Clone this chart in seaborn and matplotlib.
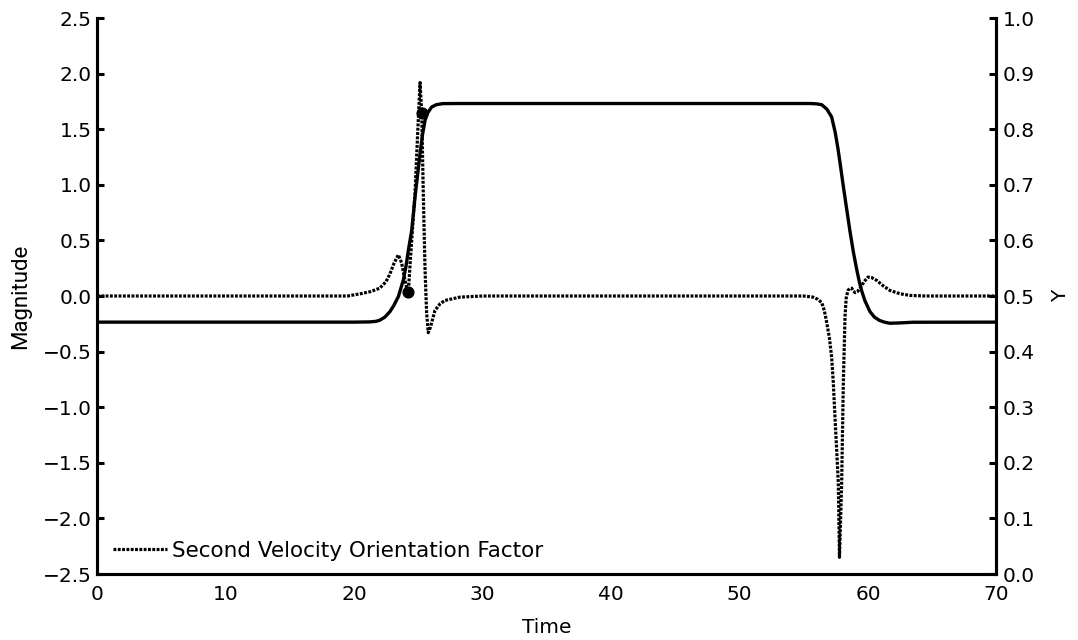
import numpy as np
import pandas as pd
import matplotlib
matplotlib.use("Agg")
import matplotlib.pyplot as plt
import seaborn as sns

# ---- data ----
# Solid curve (right axis "Y")
solid_time = [0, 10, 20.0, 21.2, 21.7, 22.0, 22.4, 22.8, 23.1, 23.45, 23.84, 24.05,
              24.23, 24.49, 24.75, 24.95, 25.14, 25.33, 25.53, 25.75, 26.05, 26.4,
              26.9, 28, 40, 55.5, 56.0, 56.4, 56.8, 57.17, 57.45, 57.67, 57.87, 58.05,
              58.33, 58.6, 58.87, 59.12, 59.32, 59.5, 59.75, 60.15, 60.5, 60.9, 61.3,
              61.7, 62.5, 63.5, 70]
solid_y = [0.453, 0.453, 0.453, 0.4534, 0.4544, 0.4564, 0.462, 0.472, 0.483, 0.4988,
           0.5288, 0.554, 0.582, 0.618, 0.678, 0.718, 0.756, 0.790, 0.816, 0.830,
           0.840, 0.844, 0.846, 0.8462, 0.8462, 0.8462, 0.8456, 0.844, 0.836, 0.822,
           0.794, 0.764, 0.732, 0.702, 0.658, 0.616, 0.578, 0.548, 0.526, 0.510,
           0.492, 0.472, 0.462, 0.456, 0.4528, 0.451, 0.4516, 0.4528, 0.453]

# Dotted curve (left axis "Magnitude")
dot_time = [0, 10, 19.5, 20.5, 21.3, 22.0, 22.5, 22.8, 23.1, 23.45, 23.7, 23.97, 24.1,
            24.23, 24.4, 24.75, 24.95, 25.14, 25.27, 25.39, 25.53, 25.65, 25.78, 25.95,
            26.3, 26.7, 27.08, 28.25, 30, 40, 55.0, 55.72, 56.1, 56.4, 56.6, 56.79,
            57.0, 57.17, 57.3, 57.43, 57.56, 57.69, 57.78, 57.87, 57.95, 58.08, 58.21,
            58.3, 58.44, 58.6, 58.73, 58.87, 58.99, 59.18, 59.38, 59.7, 60.0, 60.3,
            60.68, 61.2, 61.71, 62.49, 63.3, 64.5, 70]
dot_mag = [0, 0, 0, 0.02, 0.04, 0.07, 0.13, 0.20, 0.29, 0.37, 0.30, 0.14, 0.07,
           0.04, 0.35, 0.93, 1.45, 1.92, 1.65, 0.93, 0.23, -0.15, -0.33, -0.28,
           -0.13, -0.07, -0.04, -0.01, 0, 0, 0, -0.01, -0.03, -0.06, -0.13, -0.24,
           -0.38, -0.55, -0.78, -1.09, -1.38, -1.68, -2.35, -2.0, -1.68, -0.78, -0.19,
           -0.02, 0.05, 0.07, 0.07, 0.045, 0.03, 0.04, 0.07, 0.13, 0.17, 0.165,
           0.14, 0.09, 0.05, 0.02, 0.005, 0, 0]

# marker points on the dotted curve
marker_time = [24.23, 25.27]
marker_mag = [0.036, 1.65]

legend_label = "Second Velocity Orientation Factor"
left_ticks = [-2.5, -2.0, -1.5, -1.0, -0.5, 0.0, 0.5, 1.0, 1.5, 2.0, 2.5]
right_ticks = [0.0, 0.1, 0.2, 0.3, 0.4, 0.5, 0.6, 0.7, 0.8, 0.9, 1.0]
x_ticks = [0, 10, 20, 30, 40, 50, 60, 70]

# ---- plotting ----
sns.set_style("white")
plt.rcParams['font.family'] = ['DejaVu Sans']
plt.rcParams['axes.unicode_minus'] = True
plt.rcParams['text.color'] = 'black'
plt.rcParams['axes.labelcolor'] = 'black'

fig = plt.figure(figsize=(10.78, 6.40), dpi=100)
ax = fig.add_axes([97/1078, 1 - 574/640, (996.5 - 97)/1078, (574 - 18)/640])
ax2 = ax.twinx()

df_dot = pd.DataFrame({"Time": dot_time, "Magnitude": dot_mag})
df_solid = pd.DataFrame({"Time": solid_time, "Y": solid_y})

sns.lineplot(data=df_dot, x="Time", y="Magnitude", ax=ax, color="black",
             linewidth=2.3, linestyle=(0, (0.9, 0.45)), label=legend_label,
             estimator=None, sort=False, solid_joinstyle="round")
ax.scatter(marker_time, marker_mag, s=60, color="black", zorder=5)

sns.lineplot(data=df_solid, x="Time", y="Y", ax=ax2, color="black",
             linewidth=2.4, estimator=None, sort=False, legend=False,
             solid_joinstyle="round", solid_capstyle="round")

ax.set_xlim(0, 70)
ax.set_ylim(-2.5, 2.5)
ax2.set_ylim(0, 1)
ax.set_xticks(x_ticks)
ax.set_yticks(left_ticks)
ax2.set_yticks(right_ticks)
ax.set_yticklabels([f"{v:.1f}".replace("-", "\u2212") for v in left_ticks])
ax2.set_yticklabels([f"{v:.1f}" for v in right_ticks])

for a in (ax, ax2):
    a.spines['top'].set_visible(False)
    for s in ('left', 'right', 'bottom'):
        a.spines[s].set_linewidth(2.2)
        a.spines[s].set_color("black")
    a.tick_params(direction='in', length=5, width=2.2, labelsize=14.5, colors="black")

ax.tick_params(axis='x', pad=8)
ax.tick_params(axis='y', pad=4)
ax2.tick_params(axis='y', pad=4.5)

ax.set_xlabel("Time", fontsize=14.5, labelpad=10, color="black")
ax.set_ylabel("Magnitude", fontsize=16, family=['Roboto', 'DejaVu Sans'], labelpad=8,
              color="black")
ax2.set_ylabel("Y", fontsize=14.5, labelpad=12, color="black")

leg = ax.legend(loc='lower left', bbox_to_anchor=(0.018, 0.024), frameon=False,
                fontsize=15.5, handlelength=2.5, handletextpad=0.25, borderpad=0,
                borderaxespad=0)
for t in leg.get_texts():
    t.set_color("black")

fig.savefig("out.png", dpi=100)
